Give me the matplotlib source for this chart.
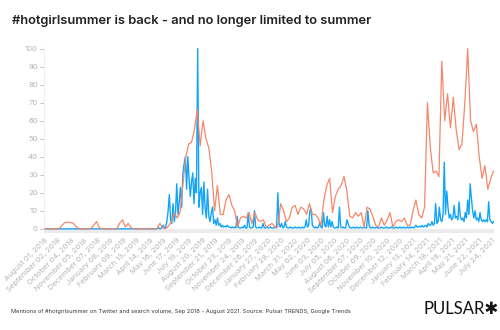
# coding=utf-8

import pandas as pd
import numpy as np
import matplotlib.pyplot as plt

# Google Trends search volume, weekly from 2018-08-01
trends = [0, 0, 0, 0, 0, 0, 2, 3.5, 3.7, 3.5, 3, 1,
          0, 0, 0, 0, 0, 2, 4, 0.5,
          0, 0, 0, 0, 0, 0, 3, 5, 1, 3, 0.5,
          0, 0, 0, 0, 0, 0, 0, 0, 0,
          3, 0.5, 0, 1.5, 4, 9, 6, 9,
          25, 40, 47, 48, 55, 66, 46, 60, 50, 45, 32, 10,
          24, 8, 8, 16, 19, 13, 10, 1, 6, 7, 6, 9, 3, 9, 5, 4, 5, 1, 2, 3, 1, 1,
          14, 10, 4, 6, 12, 13, 8, 12, 11, 8, 14, 8, 8, 6, 2, 16, 24, 28,
          9, 18, 22, 24, 29, 21, 7, 6, 9, 7, 9, 1, 12, 11, 7, 2, 1, 6, 2, 5, 9, 1,
          4, 5, 4, 6, 2, 2, 10, 16, 8, 6, 12, 70, 45, 31, 32, 29,
          93, 60, 75, 56, 73, 55, 44, 47, 70, 100, 60, 54, 58, 40, 28, 35, 22, 28, 32]

# Twitter mentions, every 3 days from 2018-08-01
mentions = [0, 0, 0, 0, 0, 0, 0, 0, 0, 0, 0, 0, 0, 0, 0, 0, 0, 0, 0, 0,
            0, 0, 0, 0, 0, 0, 0, 0, 0, 0, 0, 0, 0, 0, 0, 0, 0, 0, 0, 0,
            0, 0, 0, 0, 0, 0, 0, 0, 0, 0, 0, 0, 0, 0, 0, 0, 0, 0, 0, 0,
            0, 0, 0, 0, 0, 0, 0, 0, 0, 0, 0, 0, 0, 0, 0, 0, 0, 0, 0, 0,
            0, 0, 0, 0, 0, 0, 0, 0, 0, 0, 0, 0,
            1, 0, 0, 1, 2,
            0.5, 1, 4, 10, 19, 5, 3, 14, 4, 9, 25, 8, 15, 23,
            12, 31, 36, 40, 22, 40, 28, 18, 26, 31, 14, 28, 20, 100,
            12, 20, 23, 8, 26, 12, 6, 22, 7, 4, 9, 12, 3, 5, 2, 6,
            2, 3, 1, 2, 1, 1.5, 1, 2, 1, 1, 0.5, 1, 0.5, 1, 0.5, 7, 1, 0.5, 0.5, 1,
            0.5, 2, 0.5, 0.5, 9, 1, 0.5, 0.5, 1, 10, 1, 0.5, 0.5, 1, 0.5, 0.5, 3, 0.5, 0.5, 1,
            0.5, 0.5, 1, 0.5, 0.5, 0.5, 1, 0.5, 20, 3, 1, 3, 0.5, 1, 4, 1, 0.5, 0.5, 1, 0.5,
            0.5, 0.5, 1, 0.5, 0.5, 1, 0.5, 0.5, 1, 0.5, 1, 5, 1, 2, 10, 11, 2, 1, 0.5, 1,
            0.5, 1, 3.5, 1, 0.5, 9, 2, 1, 7, 1, 5, 1, 4, 1, 0.5, 0.5, 1, 0.5, 12, 1,
            0.5, 1, 0.5, 0.5, 5, 3, 1, 0.5, 0.5, 1, 0.5, 0.5, 1, 0.5, 0.5, 1, 0.5, 0.5, 1, 0.5,
            0.5, 10, 2, 0.5, 0.5, 1, 0.5, 0.5, 1, 0.5, 0.5, 0.5, 1, 0.5, 0.5, 0.5, 1, 0.5, 0.5, 0.5,
            1, 0.5, 0.5, 0.5, 1, 0.5, 0.5, 1, 0.5, 0.5, 1, 0.5, 0.5, 1, 0.5, 1, 0.5, 1, 0.5, 1,
            2, 1, 1, 1.5, 1, 2, 1, 1.5, 2, 1, 3, 2, 2, 4, 2, 3, 14, 3, 4, 12,
            5, 4, 8, 37, 8, 21, 12, 6, 8, 5, 6, 13, 6, 7, 5, 15, 7, 5, 6, 4,
            9, 6, 16, 8, 25, 17, 10, 6, 10, 5, 6, 4, 9, 5, 4, 5, 4, 5, 4, 15, 5, 4, 3, 4]

start = pd.Timestamp('2018-08-01')
trend_dates = pd.date_range(start, periods=len(trends), freq='7D')
mention_dates = pd.date_range(start, periods=len(mentions), freq='3D')

# x labels every 32 days
tick_dates = pd.date_range(start, periods=35, freq='32D')
tick_labels = [d.strftime('%B %d, %Y') for d in tick_dates]

plt.rcParams['font.family'] = ['Inter', 'DejaVu Sans']

fig = plt.figure(figsize=(5, 3.3), dpi=100)
ax = fig.add_axes([0.088, 0.294, 0.9, 0.564])

ax.axhspan(-2.3, 0, color='#ebebeb', lw=0, zorder=0)
ax.plot(mention_dates, mentions, color='#12a4f7', lw=1.0, zorder=2)
ax.plot(trend_dates, trends, color='#f5876a', lw=0.9, zorder=3,
        solid_joinstyle='round')

ax.set_ylim(-2.3, 101)
ax.set_xlim(pd.Timestamp('2018-07-30'), pd.Timestamp('2021-07-29'))

ax.set_yticks(np.arange(0, 101, 10))
ax.tick_params(axis='y', colors='#b5b5b5', labelsize=5.5, length=3, width=0.6, pad=1.5)
ax.set_xticks(tick_dates)
ax.set_xticklabels(tick_labels, rotation=45, ha='right', rotation_mode='anchor')
ax.tick_params(axis='x', colors='#b5b5b5', labelsize=5.5, length=0, pad=3)

for s in ['top', 'right', 'bottom']:
    ax.spines[s].set_visible(False)
ax.spines['left'].set_color('#f0f0f0')
ax.spines['left'].set_linewidth(0.8)

fig.text(0.024, 0.935, '#hotgirlsummer is back - and no longer limited to summer',
         fontsize=9.3, fontweight='semibold', color='#222222', va='center')
fig.text(0.022, 0.055, 'Mentions of #hotgirlsummer on Twitter and search volume, '
         'Sep 2018 - August 2021. Source: Pulsar TRENDS, Google Trends',
         fontsize=4.1, color='#333333', va='center')
fig.text(0.998, 0.065, 'PULSAR\u2731', fontsize=12, color='#111111', ha='right', va='center',
         family=['Lato', 'DejaVu Sans'])

plt.savefig('out.png', dpi=100)
